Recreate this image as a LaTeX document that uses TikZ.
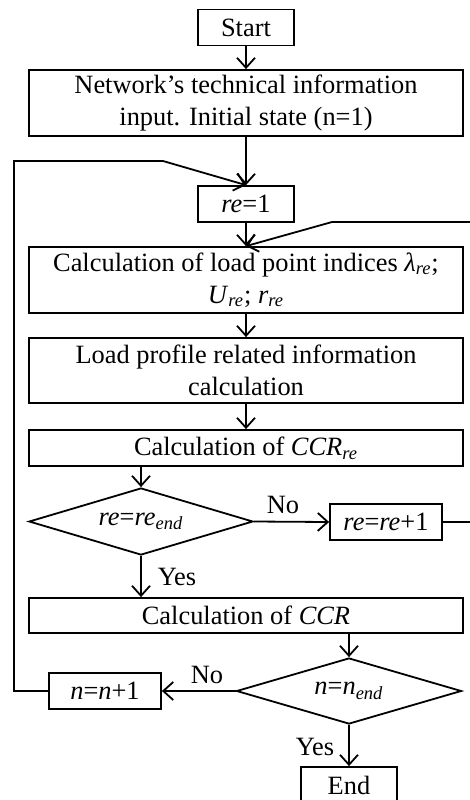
\documentclass[tikz,border=0pt]{standalone}
\usepackage{fontspec}
\setmainfont{Liberation Serif}
\usetikzlibrary{shapes.geometric,arrows.meta}

\tikzset{
  box/.style={draw, line width=0.9pt, inner sep=0pt, align=center},
  widebox/.style={box, minimum width=217pt},
  smallbox/.style={box, minimum width=48pt, minimum height=18pt},
  decision/.style={draw, diamond, shape aspect=3.35, line width=0.9pt, inner sep=0pt},
  flow/.style={-{Straight Barb[length=5pt,width=9pt]}, line width=0.9pt},
}
\newcommand{\ii}[1]{\textit{#1}}
\newcommand{\sub}[1]{\textsubscript{\textit{#1}}}

\begin{document}
\begin{tikzpicture}[x=0.5pt, y=-0.5pt, font=\fontsize{13.2}{16}\selectfont]
    \clip (0,0) rectangle (470,800);

    % Main column
    \node[smallbox] (start) at (246,27.5) {Start};
    \node[widebox, minimum height=33pt] (input) at (246,103)
        {Network’s technical information\\input. Initial state (n=1)};
    \node[smallbox] (re1) at (246,204) {\ii{re}=1};
    \node[widebox, minimum height=33pt] (indices) at (246,280)
        {Calculation of load point indices \ii{λ}\sub{re};\\\ii{U}\sub{re}; \ii{r}\sub{re}};
    \node[widebox, minimum height=32.5pt] (profile) at (246,370.5)
        {Load profile related information\\calculation};
    \node[widebox, minimum height=18pt] (ccrre) at (246,448) {Calculation of \ii{CCR}\sub{re}};
    \node[decision, minimum width=112pt, minimum height=33.5pt] (checkre) at (141,521.5)
        {\ii{re}=\ii{re}\sub{end}};
    \node[smallbox, minimum width=56pt] (nextre) at (386,522) {\ii{re}=\ii{re}+1};
    \node[widebox, minimum height=17.5pt] (ccr) at (246,615.5) {Calculation of \ii{CCR}};
    \node[decision, minimum width=112.5pt, minimum height=33pt] (checkn) at (349,691)
        {\ii{n}=\ii{n}\sub{end}};
    \node[smallbox, minimum width=56pt] (nextn) at (105,691) {\ii{n}=\ii{n}+1};
    \node[smallbox] (end) at (349,785) {End};

    % Branch labels
    \node (no1) at (283,505) {No};
    \node (yes1) at (177,577) {Yes};
    \node (no2) at (207,675) {No};
    \node (yes2) at (315,747) {Yes};

    % Loop corners
    \coordinate (lside) at (14,691);
    \coordinate (lbend) at (163,161);
    \coordinate (rside) at (478,522);
    \coordinate (rbend) at (332,222);

    % Straight flow
    \draw[flow] (start) -- (input);
    \draw[flow] (input) -- (re1);
    \draw[flow] (re1) -- (indices);
    \draw[flow] (indices) -- (profile);
    \draw[flow] (profile) -- (ccrre);
    \draw[flow] (checkre.north |- ccrre.south) -- (checkre.north);
    \draw[flow] (checkre.east) -- (nextre.west);
    \draw[flow] (checkre.south) -- (checkre.south |- ccr.north);
    \draw[flow] (checkn.north |- ccr.south) -- (checkn.north);
    \draw[flow] (checkn.west) -- (nextn.east);
    \draw[flow] (checkn.south) -- (end.north);

    % Loops back
    \draw[flow] (nextn.west) -- (lside) |- (lbend) -- (re1.north);
    \draw[flow] (nextre.east) -- (rside) |- (rbend) -- (indices.north);
\end{tikzpicture}
\end{document}
